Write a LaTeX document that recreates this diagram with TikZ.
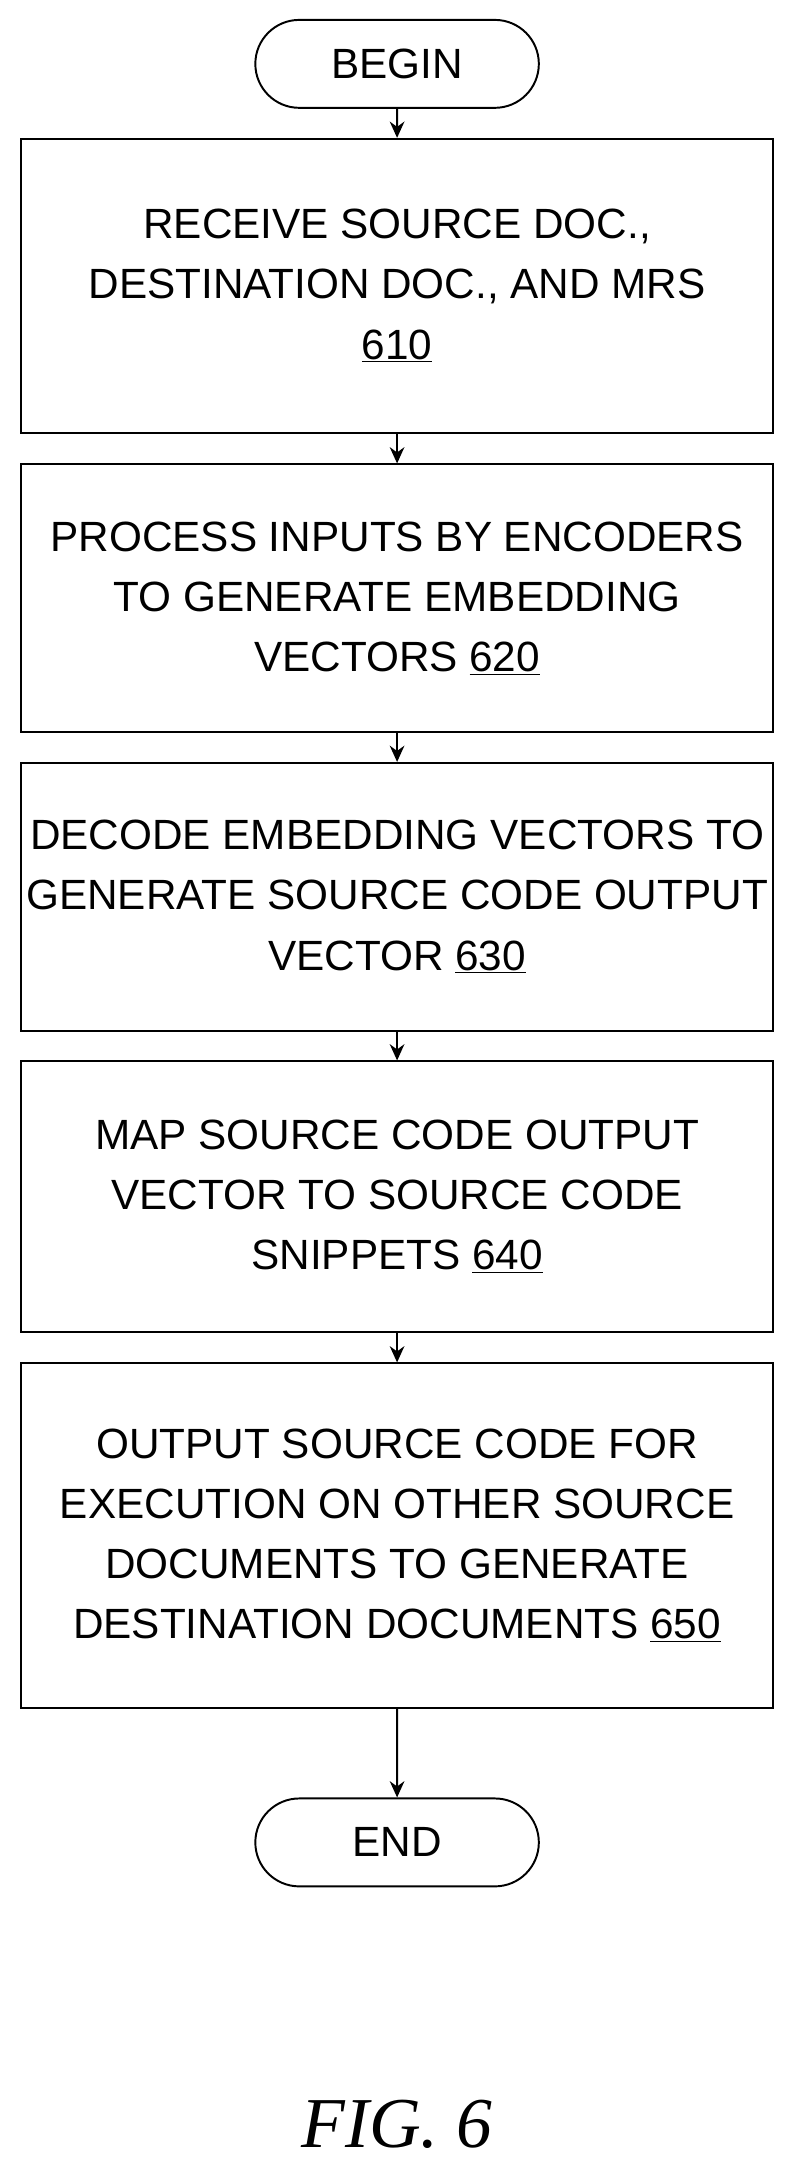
\documentclass[tikz,border=0pt]{standalone}
\usepackage{fontspec}
\setmainfont{Liberation Sans}
\newfontfamily\figfont{Liberation Serif}
\usetikzlibrary{shapes.misc, arrows.meta, positioning}

\begin{document}
\begin{tikzpicture}[
    x=0.03cm, y=-0.03cm,
    stepbox/.style={rectangle, draw, line width=1.2pt, minimum width=16.26cm, align=center,
        font=\fontsize{26}{37}\selectfont},
    term/.style={rounded rectangle, draw, line width=1.2pt, minimum width=6.36cm, minimum height=1.9cm,
        font=\fontsize{26}{37}\selectfont},
    arrow/.style={-{Stealth[length=10pt,width=9pt]}, line width=1.2pt}
]
    \useasboundingbox (0,0) rectangle (572,1568);

    \node[term] (begin) at (286,46) {BEGIN};
    \node[stepbox, minimum height=6.36cm] (s610) at (286,206)
        {RECEIVE SOURCE DOC.,\\DESTINATION DOC., AND MRS\\\underline{610}};
    \node[stepbox, minimum height=5.79cm] (s620) at (286,431)
        {PROCESS INPUTS BY ENCODERS\\TO GENERATE EMBEDDING\\VECTORS \underline{620}};
    \node[stepbox, minimum height=5.79cm] (s630) at (286,646)
        {DECODE EMBEDDING VECTORS TO\\GENERATE SOURCE CODE OUTPUT\\VECTOR \underline{630}};
    \node[stepbox, minimum height=5.85cm] (s640) at (286,862)
        {MAP SOURCE CODE OUTPUT\\VECTOR TO SOURCE CODE\\SNIPPETS \underline{640}};
    \node[stepbox, minimum height=7.44cm] (s650) at (286,1106)
        {OUTPUT SOURCE CODE FOR\\EXECUTION ON OTHER SOURCE\\DOCUMENTS TO GENERATE\\DESTINATION DOCUMENTS \underline{650}};
    \node[term] (end) at (286,1327) {END};

    \node[font=\figfont\itshape\fontsize{44}{50}\selectfont] (fig) at (286,1530) {FIG. 6};

    \draw[arrow] (begin) -- (s610);
    \draw[arrow] (s610) -- (s620);
    \draw[arrow] (s620) -- (s630);
    \draw[arrow] (s630) -- (s640);
    \draw[arrow] (s640) -- (s650);
    \draw[arrow] (s650) -- (end);
\end{tikzpicture}
\end{document}
